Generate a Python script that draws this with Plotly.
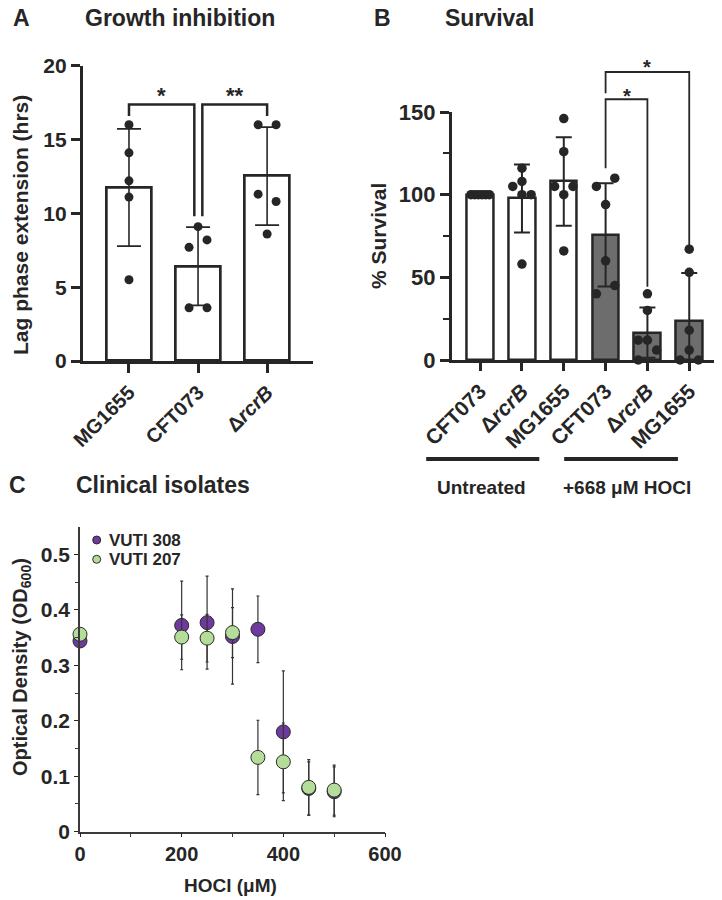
import plotly.graph_objects as go

W, H = 722, 900
PAGE_OFFSET = 8  # the page body margin shifts the figure by this many pixels

# ---- panel A: lag phase extension (hrs) ----
A_STRAINS = ['MG1655', 'CFT073', 'Δ<i>rcrB</i>']
A_MEAN = [11.75, 6.42, 12.52]
A_SD = [3.97, 2.65, 3.32]
A_POINTS = [
    [16.0, 14.1, 12.2, 11.1, 5.5],
    [9.1, 8.2, 7.7, 3.6, 3.6],
    [16.0, 16.0, 11.3, 10.8, 8.6],
]
A_SLOTS = [
    [0, 0, 0, 0, 0],
    [0, 1, -1, -1, 1],
    [-1, 1, -1, 1, 0],
]

# ---- panel B: % survival ----
B_STRAINS = ['CFT073', 'Δ<i>rcrB</i>', 'MG1655', 'CFT073', 'Δ<i>rcrB</i>', 'MG1655']
B_TREATED = [False, False, False, True, True, True]
B_MEAN = [100.0, 97.7, 108.0, 75.7, 16.6, 23.8]
B_SD = [0.0, 20.6, 26.8, 31.2, 15.2, 28.8]
B_POINTS = [
    [100, 100, 100, 100, 100, 100],
    [116, 108, 105, 100, 100, 58],
    [146, 126, 105, 105, 100, 66],
    [110, 105, 94, 60, 45, 40],
    [40, 30, 12, 12, 6, 0],
    [67, 53, 18, 6, 0, 0],
]
B_SLOTS = [
    [-1, -0.6, -0.2, 0.2, 0.6, 1],
    [0, 0, -1, 0, 1, 0],
    [0, 0, -1, 1, 0, 0],
    [1, -1, 0, 0, 1, -1],
    [0, 0, -1, 0, 1, -1],
    [0, 0, 0, 0, -1, 1],
]

# ---- panel C: clinical isolates ----
HOCL_UM = [0, 200, 250, 300, 350, 400, 450, 500]
VUTI308 = [0.344, 0.372, 0.377, 0.352, 0.365, 0.180, 0.078, 0.072]
VUTI308_SD = [0.008, 0.080, 0.084, 0.086, 0.060, 0.110, 0.048, 0.045]
VUTI207 = [0.356, 0.351, 0.349, 0.359, 0.134, 0.126, 0.080, 0.075]
VUTI207_SD = [0.006, 0.040, 0.043, 0.045, 0.067, 0.070, 0.050, 0.045]

INK = '#262626'
GRAY_BAR = '#6d6d6d'
PURPLE = '#6e3a9e'
GREEN = '#b4dd9a'
FONT = 'Liberation Sans, Arial, sans-serif'


def px_x(px):
    return (px - PAGE_OFFSET) / W


def px_y(py):
    return 1 - (py - PAGE_OFFSET) / H


def to_paper(v, dom, rng):
    return dom[0] + (v - rng[0]) / (rng[1] - rng[0]) * (dom[1] - dom[0])


# axis frames (measured in pixels of the target)
XA_DOM, XA_RNG = [px_x(82.7), px_x(312.7)], [-0.67, 2.66]
YA_DOM, YA_RNG = [px_y(361), px_y(65.7)], [0, 20]
XB_DOM, XB_RNG = [px_x(451.7), px_x(716)], [-0.68, 5.64]
YB_DOM, YB_RNG = [px_y(360), px_y(112)], [0, 150]
XC_DOM, XC_RNG = [px_x(80), px_x(385)], [0, 600]
YC_DOM, YC_RNG = [px_y(831.7), px_y(526.7)], [0, 0.55]

fig = go.Figure()

# panel A bars + points
fig.add_trace(go.Bar(
    x=list(range(len(A_STRAINS))), y=A_MEAN, width=0.65,
    marker=dict(color='white', line=dict(color=INK, width=2.7)),
    error_y=dict(type='data', array=A_SD, visible=True, color=INK, thickness=1.6, width=12),
    xaxis='x', yaxis='y', showlegend=False,
))
ax, ay = [], []
for i, (vals, slots) in enumerate(zip(A_POINTS, A_SLOTS)):
    for v, s in zip(vals, slots):
        ax.append(i + 0.13 * s)
        ay.append(v)
fig.add_trace(go.Scatter(
    x=ax, y=ay, mode='markers', marker=dict(size=9, color=INK),
    cliponaxis=False, xaxis='x', yaxis='y', showlegend=False,
))

# panel B bars + points
fig.add_trace(go.Bar(
    x=list(range(len(B_STRAINS))), y=B_MEAN, width=0.64,
    marker=dict(color=[GRAY_BAR if t else 'white' for t in B_TREATED],
                line=dict(color=INK, width=2.5)),
    error_y=dict(type='data', array=B_SD, visible=True, color=INK, thickness=2, width=8),
    xaxis='x2', yaxis='y2', showlegend=False,
))
bx, by = [], []
for i, (vals, slots) in enumerate(zip(B_POINTS, B_SLOTS)):
    for v, s in zip(vals, slots):
        bx.append(i + 0.22 * s)
        by.append(v)
fig.add_trace(go.Scatter(
    x=bx, y=by, mode='markers', marker=dict(size=9.5, color=INK),
    cliponaxis=False, xaxis='x2', yaxis='y2', showlegend=False,
))

# panel C scatter
C_SERIES = [('VUTI 308', VUTI308, VUTI308_SD, PURPLE), ('VUTI 207', VUTI207, VUTI207_SD, GREEN)]
for name, vals, sd, col in C_SERIES:
    fig.add_trace(go.Scatter(
        x=HOCL_UM, y=vals, mode='markers', name=name,
        marker=dict(size=14, color=col, line=dict(color='#2a2a2a', width=1)),
        error_y=dict(type='data', array=sd, visible=True, color='#333333', thickness=1.2, width=1.5),
        cliponaxis=False, xaxis='x3', yaxis='y3', showlegend=False,
    ))

shapes = []
annotations = []


def label(text, x, y, size, **kw):
    d = dict(x=x, y=y, xref='paper', yref='paper', text=text, showarrow=False,
             xanchor='center', yanchor='middle', font=dict(size=size))
    d.update(kw)
    return d


# panel A brackets (data units)
A_BRACKETS = [
    # (x_left, y_left_foot, x_right, y_right_foot, top, star)
    (0, 16.6, 0.946, 9.8, 17.38, '*'),
    (1.062, 9.8, 2, 16.6, 17.38, '**'),
]
for x0, f0, x1, f1, top, star in A_BRACKETS:
    shapes.append(dict(type='path', xref='x', yref='y',
                       path=f'M {x0},{f0} L {x0},{top} L {x1},{top} L {x1},{f1}',
                       line=dict(color=INK, width=2.5)))
    annotations.append(label(star, (x0 + x1) / 2, 17.95, 22, xref='x', yref='y'))

# panel B brackets (data units converted to paper, they rise above the axis)
B_BRACKETS = [
    (3, 116.0, 4, 44.3, 157.7, 159.6),
    (3, 161.3, 5, 69.5, 174.2, 177.0),
]
for x0, f0, x1, f1, top, star_y in B_BRACKETS:
    px0 = to_paper(x0, XB_DOM, XB_RNG)
    px1 = to_paper(x1, XB_DOM, XB_RNG)
    pf0 = to_paper(f0, YB_DOM, YB_RNG)
    pf1 = to_paper(f1, YB_DOM, YB_RNG)
    pt = to_paper(top, YB_DOM, YB_RNG)
    shapes.append(dict(type='path', xref='paper', yref='paper',
                       path=f'M {px0},{pf0} L {px0},{pt} L {px1},{pt} L {px1},{pf1}',
                       line=dict(color=INK, width=1.8)))
    annotations.append(label('*', (px0 + px1) / 2, to_paper(star_y, YB_DOM, YB_RNG), 20))

# panel B treatment groups
B_GROUPS = [('Untreated', -1.29, 1.415, 0.04), ('+668 μM HOCl', 2.01, 4.73, 3.52)]
for text, g0, g1, gc in B_GROUPS:
    shapes.append(dict(type='line', xref='paper', yref='paper',
                       x0=to_paper(g0, XB_DOM, XB_RNG), x1=to_paper(g1, XB_DOM, XB_RNG),
                       y0=px_y(459), y1=px_y(459), line=dict(color=INK, width=4)))
    annotations.append(label(text, to_paper(gc, XB_DOM, XB_RNG), px_y(487), 19))

# panel letters and titles
for txt, x, y in [('A', 22, 18), ('B', 382, 18), ('C', 17, 485),
                  ('Growth inhibition', 180, 18), ('Survival', 490, 18), ('Clinical isolates', 163, 485)]:
    annotations.append(label(txt, px_x(x), px_y(y), 23))

# axis titles
for txt, x, y, size in [('Lag phase extension (hrs)', 21, 225, 21),
                        ('% Survival', 378, 236, 21),
                        ('Optical Density (OD<sub>600</sub>)', 21, 667, 20)]:
    annotations.append(label(txt, px_x(x), px_y(y), size, textangle=-90))
annotations.append(label('HOCl (μM)', px_x(230), px_y(885), 19))

# panel C legend
for k, (name, _, _, col) in enumerate(C_SERIES):
    cy = 540 + 19.3 * k
    shapes.append(dict(type='circle', xref='paper', yref='paper',
                       x0=px_x(92.7), x1=px_x(100.7), y0=px_y(cy + 4), y1=px_y(cy - 4),
                       fillcolor=col, line=dict(color='#2a2a2a', width=1)))
    annotations.append(label(name, px_x(107), px_y(cy), 17, xanchor='left'))

cat_axis = dict(showline=True, linecolor=INK, ticks='outside', tickcolor=INK, automargin=False,
                tickangle=-45, showgrid=False, zeroline=False, tickfont=dict(size=20))
val_axis = dict(showline=True, linecolor=INK, ticks='outside', tickcolor=INK, automargin=False,
                showgrid=False, zeroline=False, tickfont=dict(size=21))

fig.update_layout(
    template='none',
    width=W, height=H,
    margin=dict(l=0, r=0, t=0, b=0, autoexpand=False),
    paper_bgcolor='white', plot_bgcolor='white',
    font=dict(family=FONT, color=INK, size=18, weight='bold'),
    showlegend=False,
    bargap=0,
    xaxis=dict(cat_axis, domain=XA_DOM, range=XA_RNG, anchor='y',
               tickvals=list(range(len(A_STRAINS))), ticktext=A_STRAINS,
               linewidth=2.7, tickwidth=2.7, ticklen=9),
    yaxis=dict(val_axis, domain=YA_DOM, range=YA_RNG, anchor='x',
               tickvals=[0, 5, 10, 15, 20], linewidth=2.7, tickwidth=2.7, ticklen=9),
    xaxis2=dict(cat_axis, domain=XB_DOM, range=XB_RNG, anchor='y2',
                tickvals=list(range(len(B_STRAINS))), ticktext=B_STRAINS,
                linewidth=2.5, tickwidth=2.5, ticklen=8, tickfont=dict(size=21)),
    yaxis2=dict(val_axis, domain=YB_DOM, range=YB_RNG, anchor='x2',
                tickvals=[0, 50, 100, 150], linewidth=2.5, tickwidth=2.5, ticklen=9,
                tickfont=dict(size=22),
                minor=dict(tickvals=[25, 75, 125], ticks='outside', ticklen=6,
                           tickwidth=2.2, tickcolor=INK)),
    xaxis3=dict(val_axis, domain=XC_DOM, range=XC_RNG, anchor='y3',
                tickvals=[0, 200, 400, 600], linewidth=1.5, tickwidth=1.2, ticklen=4,
                linecolor='#3a3a3a', tickfont=dict(size=20),
                minor=dict(tickvals=[100, 300, 500], ticks='outside', ticklen=4,
                           tickwidth=1.2, tickcolor='#3a3a3a')),
    yaxis3=dict(val_axis, domain=YC_DOM, range=YC_RNG, anchor='x3',
                tickvals=[0, 0.1, 0.2, 0.3, 0.4, 0.5], ticktext=['0', '0.1', '0.2', '0.3', '0.4', '0.5'],
                linewidth=1.5, tickwidth=1.2, ticklen=4, linecolor='#3a3a3a',
                minor=dict(tickvals=[0.05, 0.15, 0.25, 0.35, 0.45], ticks='outside', ticklen=3,
                           tickwidth=1, tickcolor='#3a3a3a')),
    shapes=shapes,
    annotations=annotations,
)

fig.write_html("out.html")
